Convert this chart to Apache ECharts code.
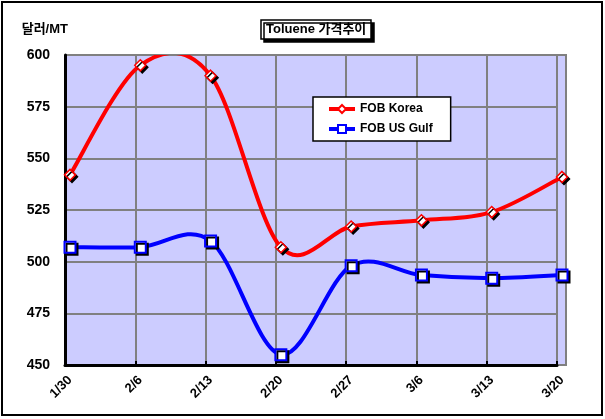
<!DOCTYPE html>
<html><head><meta charset="utf-8">
<script src="https://cdn.jsdelivr.net/npm/echarts@6/dist/echarts.min.js"></script>
<style>html,body{margin:0;padding:0;background:#fff}#c{width:605px;height:419px}</style>
</head><body><div id="c"></div>
<script>
var categories = ['1/30','2/6','2/13','2/20','2/27','3/6','3/13','3/20'];
var korea = [542, 595, 590, 507, 517, 520, 524, 541];
var usGulf = [507, 507, 510, 455, 498, 493.5, 492, 493.5];
var yTicks = [450, 475, 500, 525, 550, 575, 600];
var FONT = 'Arial, "Liberation Sans", "Noto Sans CJK KR", sans-serif';

// Excel-style smoothed segment (Catmull-Rom -> cubic Bezier), mapped through the axes
function smoothSegment(values, color) {
  return function (params, api) {
    var i = params.dataIndex, n = values.length;
    if (i >= n - 1) return null;
    function pt(k) { k = Math.max(0, Math.min(n - 1, k)); return api.coord([k, values[k]]); }
    var p0 = pt(i - 1), p1 = pt(i), p2 = pt(i + 1), p3 = pt(i + 2);
    return {
      type: 'bezierCurve',
      shape: {
        x1: p1[0], y1: p1[1], x2: p2[0], y2: p2[1],
        cpx1: p1[0] + (p2[0] - p0[0]) / 6, cpy1: p1[1] + (p2[1] - p0[1]) / 6,
        cpx2: p2[0] - (p3[0] - p1[0]) / 6, cpy2: p2[1] - (p3[1] - p1[1]) / 6
      },
      style: { stroke: color, lineWidth: 4, fill: null }
    };
  };
}
function pairs(values) { return values.map(function (v, k) { return [k, v]; }); }

var yBase = {type:'value', min:yTicks[0], max:yTicks[yTicks.length-1], interval:25};

var chart = echarts.init(document.getElementById('c'), null, {renderer:'canvas'});
chart.setOption({
  animation:false,
  backgroundColor:'#fff',
  title:{
    text:'Toluene 가격추이', left:261, top:20,
    padding:[3,5,3,5], backgroundColor:'#fff', borderColor:'#000', borderWidth:1.5,
    shadowColor:'#000', shadowOffsetX:3, shadowOffsetY:3, shadowBlur:0,
    textStyle:{fontFamily:FONT, fontSize:13, fontWeight:'bold', color:'#000'}
  },
  legend:{
    orient:'vertical', left:313, top:97, padding:[6,18,6,14], itemGap:8,
    itemWidth:26, itemHeight:10,
    backgroundColor:'#fff', borderColor:'#000', borderWidth:1.5,
    textStyle:{fontFamily:FONT, fontSize:12, fontWeight:'bold', color:'#000'},
    data:[
      {name:'FOB Korea', lineStyle:{color:'#FF0000', width:4, opacity:1}},
      {name:'FOB US Gulf', lineStyle:{color:'#0000FF', width:4, opacity:1}}
    ]
  },
  graphic:[
    {type:'rect', shape:{x:2,y:2,width:600,height:413}, style:{fill:'none', stroke:'#000', lineWidth:2}, z:-10},
    {type:'rect', shape:{x:557,y:55,width:9,height:310}, style:{fill:'#CCCCFF', stroke:'#808080', lineWidth:2}, z:-5}
  ],
  grid:[
    {left:65, top:55, width:492, height:310, show:true, backgroundColor:'#CCCCFF', borderWidth:0},
    {left:70, top:55, width:492, height:310, show:false}
  ],
  xAxis:[
    {type:'category', gridIndex:0, data:categories, boundaryGap:false,
     axisLine:{lineStyle:{color:'#000', width:3}},
     axisTick:{show:true, inside:true, length:4, lineStyle:{color:'#000', width:2}},
     axisLabel:{show:false},
     splitLine:{show:true, lineStyle:{color:'#808080', width:2}}},
    {type:'category', gridIndex:1, data:categories, boundaryGap:false,
     axisLine:{show:false}, axisTick:{show:false}, splitLine:{show:false},
     axisLabel:{rotate:45, margin:13, fontFamily:FONT, fontSize:13, fontWeight:'bold', color:'#000'}}
  ],
  yAxis:[
    Object.assign({gridIndex:0,
      name:'달러/MT', nameLocation:'end', nameGap:19,
      nameTextStyle:{align:'right', fontFamily:FONT, fontSize:13, fontWeight:'bold', color:'#000', padding:[0,-3,0,0]},
      axisLine:{show:true, lineStyle:{color:'#000', width:3}},
      axisTick:{show:false},
      axisLabel:{margin:15, fontFamily:FONT, fontSize:14, fontWeight:'bold', color:'#000'},
      splitLine:{show:true, lineStyle:{color:'#808080', width:2}}}, yBase),
    Object.assign({gridIndex:1, show:false, splitLine:{show:false}}, yBase)
  ],
  series:[
    {type:'custom', name:'koreaCurve', xAxisIndex:1, yAxisIndex:1, data:pairs(korea), encode:{x:0,y:1}, clip:true, z:2,
     renderItem:smoothSegment(korea, '#FF0000'), silent:true},
    {type:'custom', name:'gulfCurve', xAxisIndex:1, yAxisIndex:1, data:pairs(usGulf), encode:{x:0,y:1}, clip:true, z:2,
     renderItem:smoothSegment(usGulf, '#0000FF'), silent:true},
    {name:'FOB Korea', type:'line', xAxisIndex:1, yAxisIndex:1, data:korea, symbol:'diamond', symbolSize:11, z:5,
     lineStyle:{color:'#FF0000', width:4, opacity:0},
     itemStyle:{color:'#fff', borderColor:'#FF0000', borderWidth:1.5, shadowColor:'#000', shadowOffsetX:2, shadowOffsetY:2, shadowBlur:0}},
    {name:'FOB US Gulf', type:'line', xAxisIndex:1, yAxisIndex:1, data:usGulf, symbol:'rect', symbolSize:11, z:5,
     lineStyle:{color:'#0000FF', width:4, opacity:0},
     itemStyle:{color:'#fff', borderColor:'#0000FF', borderWidth:2, shadowColor:'#000', shadowOffsetX:2, shadowOffsetY:2, shadowBlur:0}}
  ]
});
</script></body></html>
